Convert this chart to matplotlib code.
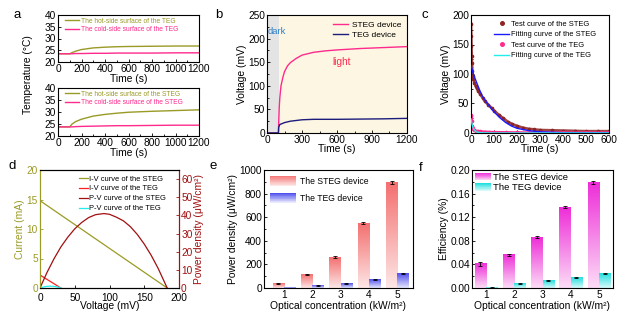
import numpy as np
import matplotlib
matplotlib.use("Agg")
import matplotlib.pyplot as plt
from matplotlib.patches import Rectangle
from matplotlib.legend_handler import HandlerBase
from matplotlib.colors import LinearSegmentedColormap, to_rgb
from matplotlib.ticker import MultipleLocator

plt.rcParams['font.family'] = ['Liberation Sans', 'DejaVu Sans']
plt.rcParams['xtick.direction'] = 'in'
plt.rcParams['ytick.direction'] = 'in'
plt.rcParams['axes.linewidth'] = 0.8

# ---------------- data ----------------
# panel a
t_a = [0, 100, 120, 150, 200, 300, 400, 500, 600, 800, 1000, 1200]
teg_hot = [23.5, 23.5, 24.0, 24.6, 25.3, 26.0, 26.3, 26.5, 26.6, 26.7, 26.8, 26.8]
teg_cold = [23.5, 23.5, 23.5, 23.6, 23.6, 23.7, 23.7, 23.8, 23.8, 23.8, 23.9, 23.9]
steg_hot = [23.8, 23.8, 25.0, 26.0, 27.0, 28.3, 29.0, 29.5, 29.9, 30.3, 30.6, 30.9]
steg_cold = [23.8, 23.8, 23.8, 23.9, 24.0, 24.1, 24.2, 24.3, 24.3, 24.4, 24.5, 24.5]

# panel b
t_b_steg = [0, 98, 100, 105, 110, 120, 135, 150, 175, 200, 250, 300, 400, 500, 600, 800, 1000, 1200]
v_b_steg = [0, 0, 20, 55, 75, 100, 117, 130, 142, 149, 158, 165, 171, 174, 176, 179, 181, 183]
t_b_teg = [0, 98, 100, 105, 110, 150, 200, 300, 400, 600, 800, 1000, 1200]
v_b_teg = [0, 0, 12, 15, 18, 22, 25, 28, 29, 29, 29.5, 30, 31]

# panel c
t_c_steg_test = [0, 1, 2, 3, 4, 6, 8, 10, 15, 20, 25, 30, 40, 50, 60, 75, 90, 100, 120, 140, 160, 180,
                 200, 225, 250, 275, 300, 350, 400, 450, 500, 550, 600]
v_c_steg_test = [185, 165, 148, 130, 118, 105, 97, 92, 85, 80, 76, 72, 66, 60, 54, 48, 42, 38, 31, 25, 19, 15,
                 12, 9, 7, 6, 5, 4.5, 4, 3.5, 3, 3, 3]
t_c_steg_fit = [0, 10, 20, 35, 50, 75, 100, 125, 150, 175, 200, 250, 300, 400, 500, 600]
v_c_steg_fit = [115, 100, 90, 75, 62, 48, 36, 26, 18, 12, 8, 4, 2, 0.5, 0.2, 0]
t_c_teg_test = [0, 1, 2, 3, 5, 8, 10, 15, 20, 30, 40, 60, 80, 100, 150, 200, 300, 400, 500, 600]
v_c_teg_test = [30, 28, 25, 20, 12, 8, 6, 5, 4, 3.5, 3, 2.5, 2, 1.8, 1.5, 1.2, 1, 1, 1, 1]
t_c_teg_fit = [0, 3, 5, 8, 10, 15, 20, 25, 30, 40, 50, 100, 600]
v_c_teg_fit = [24, 18, 14, 10, 8, 5, 3, 2, 1.2, 0.5, 0.2, 0, 0]

# panel d
v_iv_steg = [0, 183]
i_iv_steg = [14.8, 0]
v_iv_teg = [0, 30]
i_iv_teg = [2.2, 0]
v_pv_steg = [0, 10, 20, 30, 40, 50, 60, 70, 80, 92, 100, 110, 120, 130, 140, 150, 160, 170, 183]
p_pv_steg = [0, 8.5, 16.0, 22.6, 28.0, 32.6, 36.1, 38.8, 40.4, 41.0, 40.6, 39.0, 37.0, 33.8, 29.5, 24.2, 18.0, 10.8, 0]
v_pv_teg = [0, 5, 10, 15, 20, 25, 30]
p_pv_teg = [0, 0.55, 0.9, 1.0, 0.9, 0.55, 0]

# panels e, f
conc = [1, 2, 3, 4, 5]
pd_steg = [40, 115, 262, 548, 893]
pd_steg_err = [6, 6, 6, 9, 12]
pd_teg = [2, 22, 40, 73, 122]
pd_teg_err = [1, 2, 3, 3, 4]
eff_steg = [0.041, 0.056, 0.086, 0.137, 0.179]
eff_steg_err = [0.003, 0.002, 0.002, 0.002, 0.002]
eff_teg = [0.001, 0.008, 0.013, 0.018, 0.024]
eff_teg_err = [0.0005, 0.0008, 0.0008, 0.0008, 0.001]

# ---------------- style ----------------
OLIVE = '#9a9a26'
PINK = '#ff2a8c'
NAVY = '#1c1c7c'
BROWN = '#8e2424'
BLUE = '#1a1aff'
CYAN = '#22eeee'
DRED = '#a01010'
RED = '#ff2020'

TICK = 7.3
LAB = 7.4

W, H = 630, 327
fig = plt.figure(figsize=(6.3, 3.27), dpi=100)


def rect(l, t, r, b):
    return [l / W, 1 - b / H, (r - l) / W, (b - t) / H]


def style(ax):
    ax.tick_params(which='both', direction='in', labelsize=TICK, pad=1.5, width=0.6)
    ax.tick_params(which='major', length=2.5)
    ax.tick_params(which='minor', length=1.5)


# ---------------- panel a ----------------
axa1 = fig.add_axes(rect(58, 15, 199, 62))
axa2 = fig.add_axes(rect(58, 88, 199, 136))
for ax, hot, cold, name in [(axa1, teg_hot, teg_cold, 'TEG'), (axa2, steg_hot, steg_cold, 'STEG')]:
    ax.plot(t_a, hot, color=OLIVE, lw=1.0, label=f'The hot-side surface of the {name}')
    ax.plot(t_a, cold, color=PINK, lw=1.0, label=f'The cold-side surface of the {name}')
    ax.set_xlim(0, 1200)
    ax.set_ylim(20, 40)
    ax.set_xticks(range(0, 1201, 200))
    ax.set_yticks(range(20, 41, 5))
    ax.xaxis.set_minor_locator(MultipleLocator(100))
    style(ax)
    ax.set_xlabel('Time (s)', fontsize=LAB, labelpad=0.3)
    leg = ax.legend(loc='upper left', bbox_to_anchor=(0.02, 1.03), fontsize=4.8, frameon=False,
                    handlelength=2.2, handletextpad=0.3, labelspacing=0.25, borderaxespad=0.2)
    for txt, c in zip(leg.get_texts(), [OLIVE, PINK]):
        txt.set_color(c)
fig.text(28 / W, 1 - 75 / H, 'Temperature (°C)', rotation=90, ha='center', va='center', fontsize=LAB)

# ---------------- panel b ----------------
axb = fig.add_axes(rect(267, 15, 407, 133))
axb.set_facecolor('#fdf6e3')
axb.axvspan(0, 100, color='#e4e4e4', lw=0, zorder=0)
axb.plot(t_b_steg, v_b_steg, color=PINK, lw=1.0, label='STEG device')
axb.plot(t_b_teg, v_b_teg, color=NAVY, lw=1.0, label='TEG device')
axb.set_xlim(0, 1200)
axb.set_ylim(0, 250)
axb.set_xticks(range(0, 1201, 300))
axb.set_yticks(range(0, 251, 50))
axb.xaxis.set_minor_locator(MultipleLocator(150))
axb.yaxis.set_minor_locator(MultipleLocator(25))
style(axb)
axb.set_xlabel('Time (s)', fontsize=LAB, labelpad=-0.5)
axb.set_ylabel('Voltage (mV)', fontsize=LAB, labelpad=1)
axb.text(3, 215, 'dark', color='#2f7fc8', fontsize=6.8, ha='left', va='center')
axb.text(643, 151, 'light', color='#ff2a50', fontsize=7.2, ha='center', va='center')
axb.legend(loc='upper right', fontsize=6.0, frameon=False, handlelength=1.8, handletextpad=0.5,
           labelspacing=0.3, borderaxespad=0.3)

# ---------------- panel c ----------------
axc = fig.add_axes(rect(471, 15, 609, 133))
axc.plot(t_c_steg_test, v_c_steg_test, color=BROWN, lw=2.0, alpha=0.85, zorder=2)
axc.plot(t_c_steg_test, v_c_steg_test, 'o', color=BROWN, ms=1.6, zorder=2, label='Test curve of the STEG')
axc.plot(t_c_steg_fit, v_c_steg_fit, color=BLUE, lw=1.0, zorder=3, label='Fitting curve of the STEG')
axc.plot(t_c_teg_test, v_c_teg_test, color=PINK, lw=1.5, zorder=2)
axc.plot(t_c_teg_test, v_c_teg_test, 'o', color=PINK, ms=1.6, zorder=2, label='Test curve of the TEG')
axc.plot(t_c_teg_fit, v_c_teg_fit, color=CYAN, lw=1.0, zorder=3, label='Fitting curve of the TEG')
axc.set_xlim(0, 600)
axc.set_ylim(0, 200)
axc.set_xticks(range(0, 601, 100))
axc.set_yticks(range(0, 201, 50))
axc.xaxis.set_minor_locator(MultipleLocator(50))
axc.yaxis.set_minor_locator(MultipleLocator(25))
style(axc)
axc.set_xlabel('Time (s)', fontsize=LAB, labelpad=-0.5)
axc.set_ylabel('Voltage (mV)', fontsize=LAB, labelpad=1)
axc.legend(loc='upper left', bbox_to_anchor=(0.13, 1.0), fontsize=5.4, frameon=False, handlelength=2.0,
           handletextpad=0.2, labelspacing=0.45, borderaxespad=0.3, markerscale=1.6)

# ---------------- panel d ----------------
axd = fig.add_axes(rect(40, 170, 179, 288))
axd2 = axd.twinx()
l1, = axd.plot(v_iv_steg, i_iv_steg, color=OLIVE, lw=0.9, label='I-V curve of the STEG')
l2, = axd.plot(v_iv_teg, i_iv_teg, color=RED, lw=0.9, label='I-V curve of the TEG')
l3, = axd2.plot(v_pv_steg, p_pv_steg, color=DRED, lw=0.9, label='P-V curve of the STEG')
l4, = axd2.plot(v_pv_teg, p_pv_teg, color=CYAN, lw=0.9, label='P-V curve of the TEG')
axd.set_xlim(0, 200)
axd.set_ylim(0, 20)
axd2.set_ylim(0, 65)
axd.set_xticks(range(0, 201, 50))
axd.set_yticks(range(0, 21, 5))
axd2.set_yticks(range(0, 61, 10))
style(axd)
style(axd2)
axd.tick_params(axis='x', pad=3.5)
axd.spines['left'].set_color(OLIVE)
axd2.spines['left'].set_color(OLIVE)
axd.spines['right'].set_color(DRED)
axd2.spines['right'].set_color(DRED)
axd.tick_params(axis='y', colors=OLIVE)
axd2.tick_params(axis='y', colors=DRED)
axd.set_ylabel('Current (mA)', fontsize=LAB, color=OLIVE, labelpad=1)
axd2.set_ylabel('Power density (μW/cm²)', fontsize=LAB, color=DRED, labelpad=1)
axd.set_xlabel('Voltage (mV)', fontsize=LAB, labelpad=-1.0)
axd2.legend(handles=[l1, l2, l3, l4], loc='upper left', bbox_to_anchor=(0.24, 1.0), fontsize=5.4,
            frameon=False, handlelength=1.3, handletextpad=0.1, labelspacing=0.35, borderaxespad=0.3)


# ---------------- gradient helpers ----------------
def blend(c1, c2, f):
    a, b = np.array(to_rgb(c1)), np.array(to_rgb(c2))
    return tuple(a * (1 - f) + b * f)


class GradHandler(HandlerBase):
    def __init__(self, top, bottom, n=14):
        super().__init__()
        self.top, self.bottom, self.n = top, bottom, n

    def create_artists(self, legend, orig_handle, xdescent, ydescent, width, height, fontsize, trans):
        arts = []
        for i in range(self.n):
            f = i / (self.n - 1)
            c = blend(self.bottom, self.top, f)
            r = Rectangle((-xdescent, -ydescent + i * height / self.n), width, height / self.n * 1.05,
                          facecolor=c, edgecolor='none', transform=trans)
            arts.append(r)
        return arts


def grad_bars(ax, x, vals, errs, top, bottom, width):
    bars = ax.bar(x, vals, width=width, yerr=errs, facecolor='none', edgecolor='none',
                  error_kw=dict(ecolor='black', elinewidth=0.6, capsize=1.2, capthick=0.6, zorder=4))
    cmap = LinearSegmentedColormap.from_list('g', [bottom, top])
    grad = np.linspace(0, 1, 64).reshape(-1, 1)
    for p in bars.patches:
        x0, y0 = p.get_x(), p.get_y()
        w, h = p.get_width(), p.get_height()
        ax.imshow(grad, cmap=cmap, origin='lower', aspect='auto', extent=(x0, x0 + w, y0, y0 + h),
                  zorder=2, interpolation='bilinear')
    return bars


# ---------------- panel e ----------------
axe = fig.add_axes(rect(264, 170, 413, 288))
xe = np.array(conc, dtype=float)
grad_bars(axe, xe - 0.2, pd_steg, pd_steg_err, '#f47070', '#fde6e6', 0.4)
grad_bars(axe, xe + 0.2, pd_teg, pd_teg_err, '#5050ee', '#e6e6fc', 0.4)
axe.set_xlim(0.3, 5.55)
axe.set_ylim(0, 1000)
axe.set_aspect('auto')
axe.set_xticks(conc)
axe.set_yticks(range(0, 1001, 200))
axe.yaxis.set_minor_locator(MultipleLocator(100))
style(axe)
axe.set_ylabel('Power density (μW/cm²)', fontsize=LAB, labelpad=1)
axe.set_xlabel('Optical concentration (kW/m²)', fontsize=LAB, labelpad=1)
h1 = Rectangle((0, 0), 1, 1, label='The STEG device')
h2 = Rectangle((0, 0), 1, 1, label='The TEG device')
axe.legend(handles=[h1, h2], loc='upper left', fontsize=6.2, frameon=False,
           handler_map={h1: GradHandler('#f47a7a', '#fde6e6'), h2: GradHandler('#5050ee', '#eaeafd')},
           handlelength=3.0, handleheight=1.4, handletextpad=0.5, labelspacing=0.8, borderaxespad=0.3)

# ---------------- panel f ----------------
axf = fig.add_axes(rect(472, 170, 613, 288))
grad_bars(axf, xe - 0.2, eff_steg, eff_steg_err, '#ee2ed8', '#fcdcf6', 0.4)
grad_bars(axf, xe + 0.2, eff_teg, eff_teg_err, '#22dede', '#d8fafa', 0.4)
axf.set_xlim(0.5, 5.5)
axf.set_ylim(0, 0.2)
axf.set_aspect('auto')
axf.set_xticks(conc)
axf.set_yticks(np.arange(0, 0.201, 0.04))
axf.set_yticklabels([f'{v:.2f}' for v in np.arange(0, 0.201, 0.04)])
axf.yaxis.set_minor_locator(MultipleLocator(0.02))
style(axf)
axf.set_ylabel('Efficiency (%)', fontsize=LAB, labelpad=1)
axf.set_xlabel('Optical concentration (kW/m²)', fontsize=LAB, labelpad=1)
h3 = Rectangle((0, 0), 1, 1, label='The STEG device')
h4 = Rectangle((0, 0), 1, 1, label='The TEG device')
axf.legend(handles=[h3, h4], loc='upper left', fontsize=6.8, frameon=False,
           handler_map={h3: GradHandler('#ee2ed8', '#fcdcf6'), h4: GradHandler('#22dede', '#d8fafa')},
           handlelength=1.7, handleheight=0.8, handletextpad=0.2, labelspacing=0.15, borderaxespad=0.1,
           borderpad=0.2)

# ---------------- panel labels ----------------
for s, x, y in [('a', 17, 15), ('b', 219, 15), ('c', 425, 15), ('d', 12, 166), ('e', 213, 166), ('f', 421, 168)]:
    fig.text(x / W, 1 - y / H, s, fontsize=9.5, ha='center', va='center')

fig.savefig('out.png', dpi=100)
